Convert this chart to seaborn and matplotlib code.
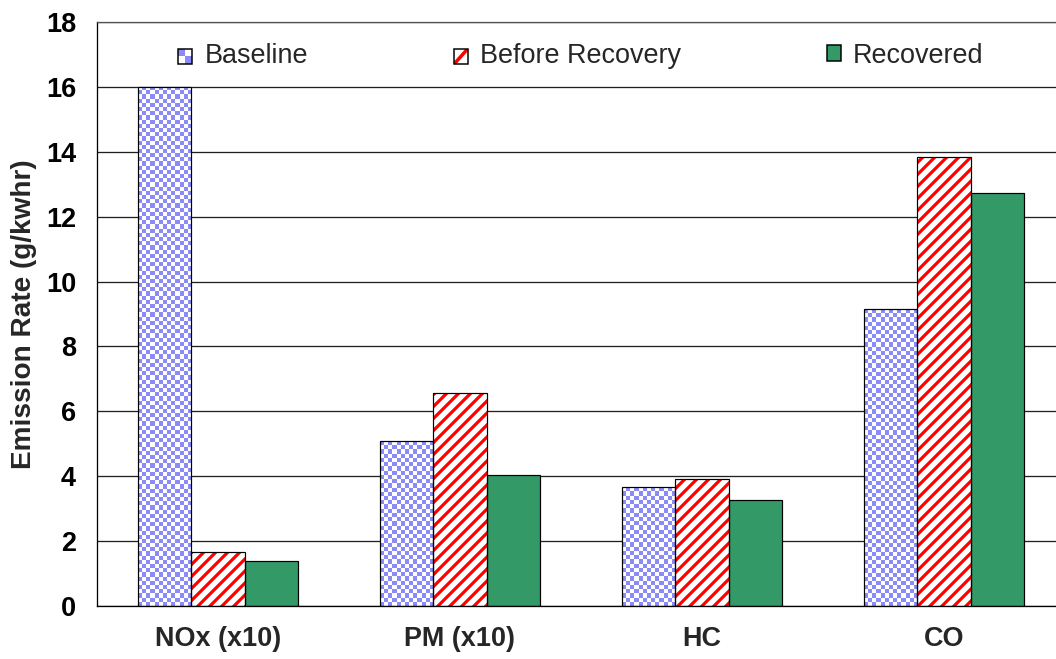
import numpy as np
import pandas as pd
import matplotlib
matplotlib.use("Agg")
import matplotlib.pyplot as plt
import seaborn as sns
from matplotlib.patches import Rectangle, Patch
from matplotlib.lines import Line2D
from matplotlib.legend_handler import HandlerBase

# emission rates
pollutants = ["NOx (x10)", "PM (x10)", "HC", "CO"]
conditions = ["Baseline", "Before Recovery", "Recovered"]
baseline = [16.0, 5.08, 3.66, 9.14]
before_recovery = [1.66, 6.56, 3.91, 13.83]
recovered = [1.40, 4.03, 3.27, 12.72]
yticks = list(range(0, 19, 2))

BLUE = "#8a8af8"
RED = "#ff0000"
GREEN = "#339966"

df = pd.DataFrame({
	"pollutant": pollutants * 3,
	"condition": [c for c in conditions for _ in pollutants],
	"rate": baseline + before_recovery + recovered,
})

sns.set_style("white")
plt.rcParams["font.family"] = ["Liberation Sans", "DejaVu Sans"]
plt.rcParams["hatch.linewidth"] = 3.2

W, H, DPI = 1056, 659, 72
fig = plt.figure(figsize=(W / DPI, H / DPI), dpi=DPI)
ax = fig.add_axes([97 / W, 1 - 606 / H, (1065 - 97) / W, (606 - 22) / H])

sns.barplot(data=df, x="pollutant", y="rate", hue="condition", order=pollutants,
	hue_order=conditions, palette=["white", "white", GREEN], width=0.66,
	edgecolor="black", linewidth=1.2, saturation=1, legend=False, ax=ax)

ax.set_xlim(-0.5, 3.5)
ax.set_ylim(0, 18)
ax.set_yticks(yticks)
ax.set_axisbelow(True)
ax.yaxis.grid(True, color="#202020", linewidth=1.3)

# checkerboard fill for the baseline bars
for bar in ax.containers[0]:
	x0, y0 = bar.get_x(), bar.get_y()
	x1, y1 = x0 + bar.get_width(), y0 + bar.get_height()
	p0 = ax.transData.transform((x0, y0))
	p1 = ax.transData.transform((x1, y1))
	nx = max(1, int(round(abs(p1[0] - p0[0]) / 4.2)))
	ny = max(1, int(round(abs(p1[1] - p0[1]) / 4.2)))
	cells = np.add.outer(np.arange(ny), np.arange(nx)) % 2
	rgb = np.array(matplotlib.colors.to_rgb(BLUE))
	img = np.where(cells[..., None] == 0, rgb, np.ones(3))
	bar.set_facecolor("none")
	bar.set_zorder(2)
	im = ax.imshow(img, extent=(x0, x1, y0, y1), origin="lower", aspect="auto",
		interpolation="nearest", zorder=1.5)
	im.set_clip_path(bar)

# red diagonal hatch for the before recovery bars: the hatch takes the edge colour,
# so the black outline goes on a separate rectangle on top
for bar in ax.containers[1]:
	bar.set_hatch("//")
	bar.set_edgecolor(RED)
	bar.set_linewidth(0)
	ax.add_patch(Rectangle((bar.get_x(), bar.get_y()), bar.get_width(), bar.get_height(),
		facecolor="none", edgecolor="black", linewidth=1.2, zorder=2))

ax.set_xlim(-0.5, 3.5)
ax.set_ylim(0, 18)

ax.tick_params(axis="y", length=9, width=1.3, direction="out", pad=12, labelsize=27, colors="black")
ax.tick_params(axis="x", which="major", length=0, pad=20, labelsize=27)
ax.set_xticks([-0.5, 0.5, 1.5, 2.5, 3.5], minor=True)
ax.tick_params(axis="x", which="minor", length=9, width=1.3, direction="out")
for lab in ax.get_xticklabels() + ax.get_yticklabels():
	lab.set_fontweight("bold")

ax.set_xlabel("")
ax.set_ylabel("Emission Rate (g/kwhr)", fontsize=28, fontweight="bold", labelpad=9)

for side in ["left", "bottom"]:
	ax.spines[side].set_color("black")
	ax.spines[side].set_linewidth(1.3)
ax.spines["top"].set_color("#555555")
ax.spines["top"].set_linewidth(1.3)
ax.spines["right"].set_visible(False)


class CheckerHandler(HandlerBase):
	def create_artists(self, legend, orig, xd, yd, w, h, fs, trans):
		arts = [Rectangle((xd, yd), w, h, facecolor="white", edgecolor="none", transform=trans)]
		for i in range(2):
			for j in range(2):
				if (i + j) % 2 == 0:
					arts.append(Rectangle((xd + i * w / 2, yd + (1 - j) * h / 2), w / 2, h / 2,
						facecolor=BLUE, edgecolor="none", transform=trans))
		arts.append(Rectangle((xd, yd), w, h, facecolor="none", edgecolor="black", lw=1.5, transform=trans))
		return arts


class StripeHandler(HandlerBase):
	def create_artists(self, legend, orig, xd, yd, w, h, fs, trans):
		box = Rectangle((xd, yd), w, h, facecolor="white", edgecolor="none", transform=trans)
		stripe = Line2D([xd, xd + w], [yd, yd + h], color=RED, lw=3.5, transform=trans)
		stripe.set_clip_path(box)
		edge = Rectangle((xd, yd), w, h, facecolor="none", edgecolor="black", lw=1.5, transform=trans)
		return [box, stripe, edge]


handles = [Patch(label=conditions[0]), Patch(label=conditions[1]),
	Patch(facecolor=GREEN, edgecolor="black", linewidth=1.5, label=conditions[2])]
ax.legend(handles=handles, labels=conditions, loc="upper center", bbox_to_anchor=(0.5, 0.997),
	ncol=3, frameon=False, fontsize=27, handlelength=0.52, handleheight=0.52,
	handletextpad=0.45, columnspacing=5.4, borderaxespad=0.3,
	handler_map={handles[0]: CheckerHandler(), handles[1]: StripeHandler()})

fig.savefig("out.png", dpi=DPI)
